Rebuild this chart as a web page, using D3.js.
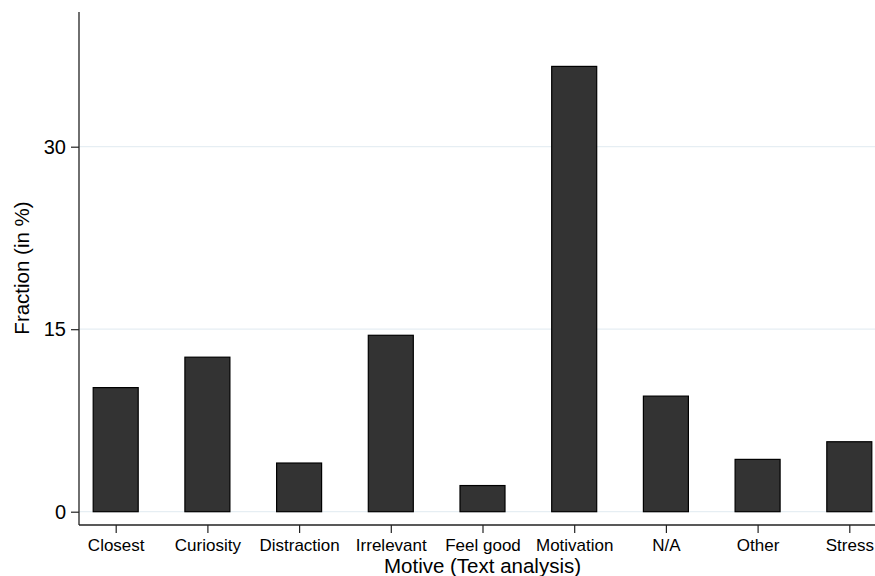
<!DOCTYPE html>
<html>
<head>
<meta charset="utf-8">
<script src="https://cdn.jsdelivr.net/npm/d3@7"></script>
<style>
  html, body { margin: 0; padding: 0; background: #fff; }
  svg { display: block; font-family: "Liberation Sans", Arial, Helvetica, sans-serif; }
</style>
</head>
<body>
<svg id="chart" width="875" height="576"></svg>
<script>
const categories = ["Closest", "Curiosity", "Distraction", "Irrelevant", "Feel good", "Motivation", "N/A", "Other", "Stress"];
const fractions = [10.2, 12.7, 4.0, 14.5, 2.15, 36.6, 9.5, 4.3, 5.75];
const yTicks = [0, 15, 30];
const xTitle = "Motive (Text analysis)";
const yTitle = "Fraction (in %)";

const svg = d3.select("#chart");
const W = 875, H = 576;

const x = d3.scalePoint().domain(categories).range([115.7, 849.3]);
const y = d3.scaleLinear().domain([0, 30]).range([511.7, 146.7]);
const barW = 45;
const axisX = 79, axisY = 525;

// gridlines
svg.append("g").selectAll("line").data(yTicks).join("line")
  .attr("x1", axisX).attr("x2", W)
  .attr("y1", d => y(d)).attr("y2", d => y(d))
  .attr("stroke", "#e6eef3").attr("stroke-width", 1.2);

// bars
svg.append("g").selectAll("rect").data(categories).join("rect")
  .attr("x", d => x(d) - barW / 2)
  .attr("width", barW)
  .attr("y", (d, i) => y(fractions[i]))
  .attr("height", (d, i) => y(0) - y(fractions[i]))
  .attr("fill", "#333333")
  .attr("stroke", "#000")
  .attr("stroke-width", 1.2);

// y axis
const yAxis = d3.axisLeft(y).tickValues(yTicks).tickSize(8).tickPadding(5).tickFormat(d3.format("d"));
const gy = svg.append("g").attr("transform", `translate(${axisX},0)`).call(yAxis);
gy.select(".domain").remove();
gy.selectAll(".tick line").attr("stroke", "#222").attr("stroke-width", 1.2);
gy.selectAll(".tick text").attr("font-size", 20).attr("fill", "#000")
  .attr("font-family", "'Liberation Sans', Arial, sans-serif");
svg.append("line").attr("x1", axisX).attr("x2", axisX).attr("y1", 12).attr("y2", axisY)
  .attr("stroke", "#222").attr("stroke-width", 1.3);

// x axis
const xAxis = d3.axisBottom(x).tickSize(8).tickPadding(6);
const gx = svg.append("g").attr("transform", `translate(0,${axisY})`).call(xAxis);
gx.select(".domain").remove();
gx.selectAll(".tick line").attr("stroke", "#222").attr("stroke-width", 1.2);
gx.selectAll(".tick text").attr("font-size", 17).attr("fill", "#000")
  .attr("font-family", "'Liberation Sans', Arial, sans-serif");
svg.append("line").attr("x1", axisX).attr("x2", W).attr("y1", axisY).attr("y2", axisY)
  .attr("stroke", "#222").attr("stroke-width", 1.3);

// titles
svg.append("text").attr("x", (115.7 + 849.3) / 2).attr("y", 573)
  .attr("text-anchor", "middle").attr("font-size", 20.5).attr("fill", "#000")
  .text(xTitle);
svg.append("text").attr("transform", "translate(29,268) rotate(-90)")
  .attr("text-anchor", "middle").attr("font-size", 20.5).attr("fill", "#000")
  .text(yTitle);
</script>
</body>
</html>
